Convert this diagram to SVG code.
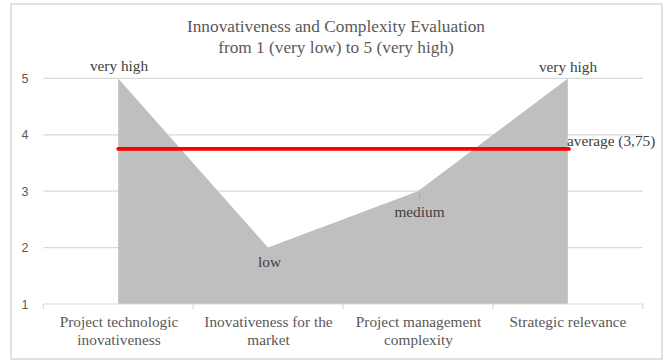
<svg xmlns="http://www.w3.org/2000/svg" width="669" height="360" viewBox="0 0 669 360">
  <style>
    .frame { fill: #ffffff; stroke: #d9d9d9; stroke-width: 1.5; }
    .grid { stroke: #d9d9d9; stroke-width: 1.2; fill: none; }
    .serif { font-family: "Liberation Serif", "Times New Roman", serif; }
    .title { font-size: 17.3px; fill: #595959; text-anchor: middle; }
    .cat { font-size: 15.3px; fill: #595959; text-anchor: middle; }
    .dlab { font-size: 15.3px; fill: #404040; text-anchor: middle; }
    .ytick { font-family: "Liberation Sans", Arial, sans-serif; font-size: 12.5px; fill: #595959; text-anchor: middle; }
  </style>
  <rect id="chart-frame" class="frame" x="11" y="4" width="651" height="355"/>

  <g id="title" class="serif title">
    <text x="336" y="31.5">Innovativeness and Complexity Evaluation</text>
    <text x="336" y="53">from 1 (very low) to 5 (very high)</text>
  </g>

  <g id="gridlines" class="grid">
    <line x1="43.3" y1="78.4" x2="642.7" y2="78.4"/>
    <line x1="43.3" y1="134.8" x2="642.7" y2="134.8"/>
    <line x1="43.3" y1="191.2" x2="642.7" y2="191.2"/>
    <line x1="43.3" y1="247.6" x2="642.7" y2="247.6"/>
  </g>

  <g id="y-axis-labels" class="ytick">
    <text x="25" y="83">5</text>
    <text x="25" y="139.4">4</text>
    <text x="25" y="195.8">3</text>
    <text x="25" y="252.2">2</text>
    <text x="25" y="308.6">1</text>
  </g>

  <g id="area-series">
    <polygon points="118.2,78.4 268,247.6 417.9,191.2 567.8,78.4 567.8,304 118.2,304" fill="#bfbfbf"/>
  </g>

  <g id="x-axis" class="grid">
    <line x1="43.3" y1="304" x2="642.7" y2="304"/>
    <line x1="43.3" y1="304" x2="43.3" y2="309"/>
    <line x1="193.2" y1="304" x2="193.2" y2="309"/>
    <line x1="343" y1="304" x2="343" y2="309"/>
    <line x1="492.9" y1="304" x2="492.9" y2="309"/>
    <line x1="642.7" y1="304" x2="642.7" y2="309"/>
  </g>

  <g id="average-line">
    <line x1="118.2" y1="148.9" x2="569" y2="148.9" stroke="#ff0000" stroke-width="3.7" stroke-linecap="round"/>
  </g>

  <g id="connectors">
    <line x1="419" y1="192.5" x2="420" y2="199" stroke="#a6a6a6" stroke-width="1"/>
  </g>

  <g id="data-labels" class="serif dlab">
    <text x="119" y="71">very high</text>
    <text x="269.5" y="267">low</text>
    <text x="419.5" y="216.5">medium</text>
    <text x="568" y="71.5">very high</text>
    <text x="567" y="145.7" style="text-anchor:start">average (3,75)</text>
  </g>

  <g id="category-labels" class="serif cat">
    <text x="119" y="327">Project technologic</text>
    <text x="119" y="345">inovativeness</text>
    <text x="268.5" y="327">Inovativeness for the</text>
    <text x="268.5" y="345">market</text>
    <text x="418.5" y="327">Project management</text>
    <text x="418.5" y="345">complexity</text>
    <text x="568" y="327">Strategic relevance</text>
  </g>
</svg>
